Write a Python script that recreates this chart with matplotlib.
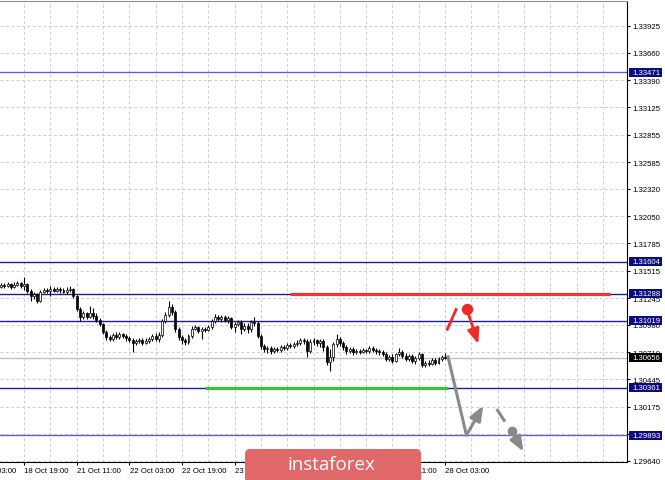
import numpy as np
import matplotlib.pyplot as plt
from matplotlib.patches import Rectangle, FancyBboxPatch

# H1 candles, bar 0 .. bar 135 (last bar = 28 Oct 03:00)
opens = [
    1.31354, 1.31374, 1.31364, 1.31384, 1.31354, 1.31374, 1.31394, 1.31364, 1.31384, 1.31315,
    1.31265, 1.31285, 1.31216, 1.31305, 1.31325, 1.31315, 1.31334, 1.31315, 1.31334, 1.31325,
    1.31305, 1.31325, 1.31334, 1.31265, 1.31137, 1.31059, 1.31098, 1.31059, 1.31098, 1.31068,
    1.31029, 1.30990, 1.30911, 1.30862, 1.30842, 1.30881, 1.30862, 1.30891, 1.30871, 1.30852,
    1.30832, 1.30802, 1.30822, 1.30832, 1.30802, 1.30822, 1.30842, 1.30871, 1.30842, 1.30881,
    1.31019, 1.31078, 1.31157, 1.31108, 1.30940, 1.30862, 1.30832, 1.30812, 1.30871, 1.30940,
    1.30960, 1.30921, 1.30940, 1.30930, 1.30960, 1.31019, 1.31059, 1.31039, 1.31059, 1.31029,
    1.31049, 1.30960, 1.30990, 1.31009, 1.30940, 1.30970, 1.30940, 1.31009, 1.30999, 1.30871,
    1.30773, 1.30743, 1.30753, 1.30724, 1.30743, 1.30734, 1.30763, 1.30753, 1.30783, 1.30773,
    1.30793, 1.30802, 1.30832, 1.30822, 1.30724, 1.30812, 1.30832, 1.30802, 1.30822, 1.30763,
    1.30615, 1.30665, 1.30793, 1.30842, 1.30802, 1.30763, 1.30724, 1.30743, 1.30714, 1.30724,
    1.30714, 1.30734, 1.30724, 1.30753, 1.30734, 1.30724, 1.30714, 1.30694, 1.30645, 1.30665,
    1.30625, 1.30694, 1.30714, 1.30674, 1.30645, 1.30674, 1.30625, 1.30655, 1.30694, 1.30586,
    1.30605, 1.30596, 1.30635, 1.30605, 1.30645, 1.30665,
]
highs = [
    1.31394, 1.31394, 1.31403, 1.31394, 1.31403, 1.31413, 1.31403, 1.31453, 1.31394, 1.31334,
    1.31305, 1.31295, 1.31325, 1.31344, 1.31344, 1.31364, 1.31354, 1.31354, 1.31354, 1.31344,
    1.31354, 1.31364, 1.31344, 1.31275, 1.31157, 1.31118, 1.31108, 1.31167, 1.31147, 1.31098,
    1.31049, 1.30999, 1.30930, 1.30881, 1.30901, 1.30911, 1.30911, 1.30901, 1.30891, 1.30871,
    1.30852, 1.30842, 1.30852, 1.30852, 1.30852, 1.30862, 1.30891, 1.30901, 1.30911, 1.31039,
    1.31108, 1.31216, 1.31187, 1.31128, 1.30960, 1.30881, 1.30852, 1.30891, 1.30970, 1.30980,
    1.30970, 1.30960, 1.30960, 1.30980, 1.31039, 1.31088, 1.31078, 1.31078, 1.31078, 1.31068,
    1.31059, 1.31009, 1.31029, 1.31029, 1.30999, 1.30999, 1.31029, 1.31059, 1.31019, 1.30891,
    1.30793, 1.30773, 1.30773, 1.30763, 1.30763, 1.30783, 1.30783, 1.30802, 1.30802, 1.30812,
    1.30832, 1.30852, 1.30852, 1.30842, 1.30842, 1.30852, 1.30842, 1.30842, 1.30842, 1.30783,
    1.30743, 1.30812, 1.30891, 1.30862, 1.30822, 1.30783, 1.30763, 1.30763, 1.30743, 1.30743,
    1.30753, 1.30743, 1.30773, 1.30773, 1.30753, 1.30743, 1.30734, 1.30714, 1.30684, 1.30694,
    1.30704, 1.30753, 1.30734, 1.30704, 1.30694, 1.30694, 1.30674, 1.30714, 1.30704, 1.30625,
    1.30635, 1.30655, 1.30655, 1.30665, 1.30684, 1.30704,
]
lows = [
    1.31344, 1.31344, 1.31354, 1.31334, 1.31344, 1.31364, 1.31344, 1.31325, 1.31295, 1.31216,
    1.31236, 1.31197, 1.31206, 1.31295, 1.31295, 1.31265, 1.31305, 1.31305, 1.31295, 1.31295,
    1.31285, 1.31305, 1.31246, 1.31118, 1.31019, 1.31039, 1.31039, 1.31049, 1.31039, 1.31009,
    1.30970, 1.30891, 1.30832, 1.30822, 1.30822, 1.30842, 1.30842, 1.30852, 1.30822, 1.30812,
    1.30714, 1.30783, 1.30802, 1.30783, 1.30793, 1.30802, 1.30822, 1.30822, 1.30812, 1.30862,
    1.30999, 1.31059, 1.31078, 1.30911, 1.30832, 1.30793, 1.30783, 1.30793, 1.30852, 1.30930,
    1.30901, 1.30842, 1.30911, 1.30921, 1.30940, 1.30999, 1.31019, 1.31009, 1.31009, 1.30999,
    1.30940, 1.30911, 1.30970, 1.30891, 1.30921, 1.30901, 1.30911, 1.30970, 1.30852, 1.30743,
    1.30714, 1.30704, 1.30694, 1.30704, 1.30714, 1.30714, 1.30734, 1.30734, 1.30753, 1.30753,
    1.30773, 1.30783, 1.30793, 1.30665, 1.30704, 1.30783, 1.30773, 1.30763, 1.30724, 1.30586,
    1.30527, 1.30625, 1.30763, 1.30773, 1.30734, 1.30694, 1.30704, 1.30684, 1.30694, 1.30694,
    1.30704, 1.30704, 1.30704, 1.30714, 1.30694, 1.30684, 1.30674, 1.30625, 1.30625, 1.30605,
    1.30615, 1.30674, 1.30655, 1.30625, 1.30625, 1.30605, 1.30596, 1.30635, 1.30566, 1.30566,
    1.30576, 1.30586, 1.30586, 1.30596, 1.30625, 1.30645,
]
closes = [
    1.31374, 1.31364, 1.31384, 1.31354, 1.31374, 1.31394, 1.31364, 1.31384, 1.31315, 1.31265,
    1.31285, 1.31216, 1.31305, 1.31325, 1.31315, 1.31334, 1.31315, 1.31334, 1.31325, 1.31305,
    1.31325, 1.31334, 1.31265, 1.31137, 1.31059, 1.31098, 1.31059, 1.31098, 1.31068, 1.31029,
    1.30990, 1.30911, 1.30862, 1.30842, 1.30881, 1.30862, 1.30891, 1.30871, 1.30852, 1.30832,
    1.30802, 1.30822, 1.30832, 1.30802, 1.30822, 1.30842, 1.30871, 1.30842, 1.30881, 1.31019,
    1.31078, 1.31157, 1.31108, 1.30940, 1.30862, 1.30832, 1.30812, 1.30871, 1.30940, 1.30960,
    1.30921, 1.30940, 1.30930, 1.30960, 1.31019, 1.31059, 1.31039, 1.31059, 1.31029, 1.31049,
    1.30960, 1.30990, 1.31009, 1.30940, 1.30970, 1.30940, 1.31009, 1.30999, 1.30871, 1.30773,
    1.30743, 1.30753, 1.30724, 1.30743, 1.30734, 1.30763, 1.30753, 1.30783, 1.30773, 1.30793,
    1.30802, 1.30832, 1.30822, 1.30724, 1.30812, 1.30832, 1.30802, 1.30822, 1.30763, 1.30615,
    1.30665, 1.30793, 1.30842, 1.30802, 1.30763, 1.30724, 1.30743, 1.30714, 1.30724, 1.30714,
    1.30734, 1.30724, 1.30753, 1.30734, 1.30724, 1.30714, 1.30694, 1.30645, 1.30665, 1.30625,
    1.30694, 1.30714, 1.30674, 1.30645, 1.30674, 1.30625, 1.30655, 1.30694, 1.30586, 1.30605,
    1.30596, 1.30635, 1.30605, 1.30645, 1.30665, 1.30656,
]

time_labels = ['18 Oct 03:00', '18 Oct 19:00', '21 Oct 11:00', '22 Oct 03:00', '22 Oct 19:00',
               '23 Oct 11:00', '24 Oct 03:00', '24 Oct 19:00', '25 Oct 11:00', '28 Oct 03:00']
time_label_bars = [-9, 7, 23, 39, 55, 71, 87, 103, 119, 135]

price_ticks = ['1.29640', '1.29905', '1.30175', '1.30445', '1.30710', '1.30980', '1.31245',
               '1.31515', '1.31785', '1.32050', '1.32320', '1.32585', '1.32855', '1.33125',
               '1.33390', '1.33660', '1.33925']

levels = [1.33471, 1.31604, 1.31288, 1.31019, 1.30361, 1.29893]
bid = 1.30656

resist_span = [88, 185]     # bars, red line at 1.31288
support_span = [62, 136]    # bars, green line at 1.30361

# forecast sketch (bar, price)
red_up_x, red_up_y = [135.5, 138.5], [1.30924, 1.31144]
red_dot = (141.6, 1.31137)
red_tip = (145.1, 1.30793)
gray_x, gray_y = [135.8, 141.5], [1.30680, 1.29893]
gray_up_tip = (146.6, 1.30185)
gray_dash_x, gray_dash_y = [150.7, 153.2], [1.30152, 1.30027]
gray_dot = (155.2, 1.29938)
gray_tip = (158.8, 1.29732)

W, H = 665, 481
fig = plt.figure(figsize=(W / 100, H / 100), dpi=100)
ax = fig.add_axes([0, 18 / H, 627 / W, 461 / H])
ax.set_xlim(-0.3, 190.3)
ax.set_ylim(1.29630, 1.34171)

font = 'Liberation Sans'
tick_vals = [float(t) for t in price_ticks]

# grid
grid_c = '#cdcdcd'
for v in tick_vals:
    ax.axhline(v, color=grid_c, lw=0.7, ls=(0, (3, 2.5)), zorder=1)
for b in range(7, 191, 8):
    ax.axvline(b, color=grid_c, lw=0.7, ls=(0, (3, 2.5)), zorder=1)

# axes look
ax.spines['left'].set_visible(False)
ax.spines['top'].set_color('#909090')
ax.spines['right'].set_color('black')
ax.spines['bottom'].set_color('black')
ax.yaxis.tick_right()
ax.set_yticks(tick_vals)
ax.set_yticklabels(price_ticks, fontsize=5.6, family=font)
ax.tick_params(axis='y', length=2.2, width=0.8, pad=1.4)
ax.set_xticks([b for b in time_label_bars if b >= 0])
ax.tick_params(axis='x', length=2.2, width=0.8, labelbottom=False)
for b, lab in zip(time_label_bars, time_labels):
    ax.text(b + 0.1, -0.0195, lab, transform=ax.get_xaxis_transform(), fontsize=5.6,
            family=font, ha='left', va='center', clip_on=False)

# horizontal levels
ax.axhline(bid, color='#c0c0c0', lw=1, zorder=1.8)
for v in levels:
    c = '#6262bd' if v in (levels[0], levels[-1]) else '#1e1e8e'
    ax.axhline(v, color=c, lw=1, zorder=3)

# candles
x = np.arange(len(closes))
o = np.array(opens)
c = np.array(closes)
ax.vlines(x, lows, highs, color='black', lw=0.8, zorder=4)
body_colors = ['white' if cc >= oo else 'black' for oo, cc in zip(o, c)]
ax.bar(x, c - o, bottom=o, width=0.6, color=body_colors, edgecolor='black', lw=0.5, zorder=5)

# resistance / support segments
ax.hlines(levels[2], resist_span[0], resist_span[1], color='#ef3434', lw=2.3, zorder=6)
ax.hlines(levels[4], support_span[0], support_span[1], color='#3ec23e', lw=2.3, zorder=6)

# forecast arrows
red = '#ee2a2a'
gray = '#8a8a8a'
head = '-|>,head_length=0.55,head_width=0.22'
ax.plot(red_up_x, red_up_y, color=red, lw=2, solid_capstyle='butt', zorder=7)
ax.plot(*red_dot, 'o', ms=7.2, color=red, zorder=8)
ax.annotate('', xy=red_tip, xytext=red_dot,
            arrowprops=dict(arrowstyle=head, color=red, lw=2, mutation_scale=16,
                            shrinkA=0, shrinkB=0), zorder=7)
ax.plot(gray_x, gray_y, color=gray, lw=2.2, solid_capstyle='butt', zorder=7)
ax.annotate('', xy=gray_up_tip, xytext=(gray_x[1], gray_y[1]),
            arrowprops=dict(arrowstyle=head, color=gray, lw=2.2, mutation_scale=16,
                            shrinkA=0, shrinkB=0), zorder=7)
ax.plot(gray_dash_x, gray_dash_y, color=gray, lw=2.2, solid_capstyle='butt', zorder=7)
ax.plot(*gray_dot, 'o', ms=6, color=gray, zorder=8)
ax.annotate('', xy=gray_tip, xytext=gray_dot,
            arrowprops=dict(arrowstyle=head, color=gray, lw=2.2, mutation_scale=16,
                            shrinkA=0, shrinkB=0), zorder=7)

# price boxes on the right scale
box_h = 9 * (ax.get_ylim()[1] - ax.get_ylim()[0]) / 461
yt = ax.get_yaxis_transform()
for v in levels + [bid]:
    fc = 'black' if v == bid else '#0c0c7e'
    ax.add_patch(Rectangle((629 / 627, v - box_h / 2), 33 / 627, box_h, transform=yt,
                           fc=fc, ec='none', clip_on=False, zorder=10))
    ax.text(632 / 627, v, f'{v:.5f}', transform=yt, color='white', fontsize=5.6,
            family=font, ha='left', va='center', clip_on=False, zorder=11)

# logo
logo = FancyBboxPatch((2.45, -0.15), 1.76, 0.46, boxstyle='round,pad=0,rounding_size=0.05',
                      transform=fig.dpi_scale_trans, fc='#e06868', ec='none', zorder=20)
fig.add_artist(logo)
fig.text(331.5 / W, (H - 465) / H, 'instaforex', color='white', fontsize=13.5,
         family='Open Sans', ha='center', va='center', zorder=21)

fig.savefig('out.png', dpi=100)
